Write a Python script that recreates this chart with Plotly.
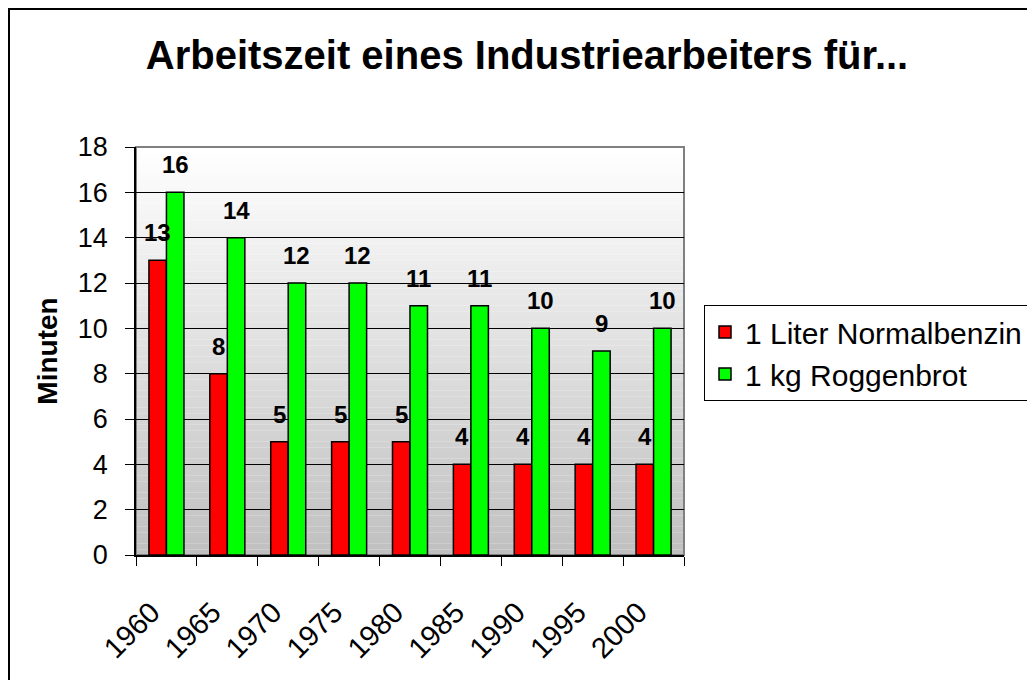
import plotly.graph_objects as go

years = ["1960", "1965", "1970", "1975", "1980", "1985", "1990", "1995", "2000"]
benzin = [13, 8, 5, 5, 5, 4, 4, 4, 4]
brot = [16, 14, 12, 12, 11, 11, 10, 9, 10]
series_names = ["1 Liter Normalbenzin", "1 kg Roggenbrot"]
y_ticks = [0, 2, 4, 6, 8, 10, 12, 14, 16, 18]

W, H = 1035, 680
OFF = 8  # page body margin in the browser
PW, PH = 548, 408
L, T = 136 - OFF, 147 - OFF
R, B = W - L - PW, H - T - PH
FONT = "Liberation Sans, Arial, sans-serif"

def px_x(p):
    return (p - OFF - L) / PW

def px_y(p):
    return (T + PH - (p - OFF)) / PH

fig = go.Figure()
fig.add_trace(go.Bar(x=years, y=benzin, name=series_names[0], legendgroup="a",
                     marker=dict(color="#FF0000", line=dict(color="black", width=1.5))))
fig.add_trace(go.Bar(x=years, y=brot, name=series_names[1], legendgroup="b",
                     marker=dict(color="#00FF00", line=dict(color="black", width=1.5))))

shapes = []
n = 72
ymax = y_ticks[-1]
for i in range(n):
    v0 = ymax * i / n
    v1 = ymax * (i + 1) / n
    vm = (v0 + v1) / 2
    g = int(round(192 + (255 - 192) * vm / ymax))
    shapes.append(dict(type="rect", xref="paper", yref="y", x0=0, x1=1, y0=v0, y1=v1,
                       fillcolor=f"rgb({g},{g},{g})", line=dict(width=0), layer="below"))
shapes.append(dict(type="rect", xref="paper", yref="paper", x0=0, x1=1, y0=0, y1=1,
                   line=dict(color="#808080", width=2), layer="between"))
shapes.append(dict(type="rect", xref="paper", yref="paper",
                   x0=px_x(OFF + 1), x1=px_x(W + 20), y0=px_y(H + 20), y1=px_y(OFF + 1),
                   line=dict(color="black", width=2), layer="above"))

annotations = []
bar_half = 8.75
for vals, sh in ((benzin, -bar_half), (brot, bar_half)):
    for i, v in enumerate(vals):
        annotations.append(dict(x=i, y=v, xref="x", yref="y", text=f"<b>{v}</b>",
                                showarrow=False, xanchor="center", yanchor="bottom",
                                xshift=sh, yshift=12,
                                font=dict(family=FONT, size=24, color="black")))

fig.update_layout(
    width=W, height=H,
    margin=dict(l=L, r=R, t=T, b=B),
    paper_bgcolor="white", plot_bgcolor="white",
    barmode="group", bargap=0.425, bargroupgap=0,
    font=dict(family=FONT, size=26, color="black"),
    title=dict(text="<b>Arbeitszeit eines Industriearbeiters für...</b>",
               x=(527 - OFF) / W, xref="container", xanchor="center",
               y=1 - (55 - OFF) / H, yref="container", yanchor="middle",
               font=dict(family=FONT, size=40, color="black")),
    legend=dict(x=px_x(704), y=px_y(305), xanchor="left", yanchor="top",
                bordercolor="black", borderwidth=1, bgcolor="white",
                font=dict(family=FONT, size=30, color="black"),
                tracegroupgap=4, traceorder="normal"),
    shapes=shapes,
    annotations=annotations,
)

fig.update_xaxes(type="category", tickson="boundaries", ticks="outside", ticklen=9,
                 tickcolor="black", tickwidth=1, showline=True, linecolor="black", linewidth=1.5,
                 showgrid=False, tickangle=-45, ticklabelshift=-15, ticklabelstandoff=27,
                 tickfont=dict(family=FONT, size=29, color="black"))
fig.update_yaxes(range=[0, 18], tickvals=y_ticks, ticks="outside", ticklen=9,
                 tickcolor="black", showline=True, linecolor="black", linewidth=1.5,
                 showgrid=True, gridcolor="black", gridwidth=1, zeroline=False,
                 ticklabelstandoff=12,
                 tickfont=dict(family=FONT, size=27, color="black"),
                 title=dict(text="<b>Minuten</b>", standoff=12,
                            font=dict(family=FONT, size=28, color="black")))

fig.write_html("out.html")
